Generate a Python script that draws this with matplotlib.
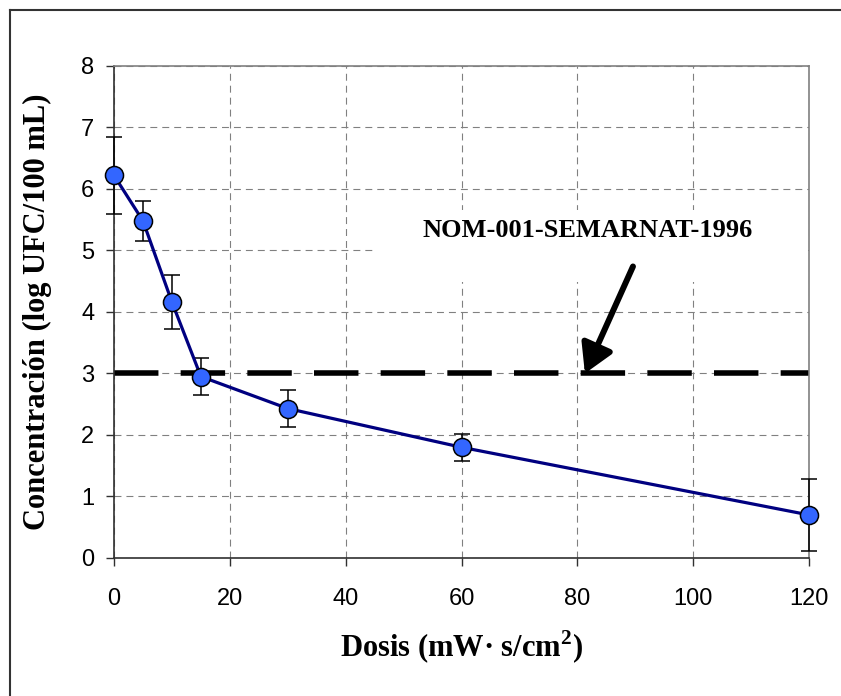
import matplotlib
matplotlib.use("Agg")
import matplotlib.pyplot as plt
from matplotlib.patches import Rectangle
from matplotlib.lines import Line2D

# dose (mW s/cm2) vs concentration (log UFC/100 mL)
dosis = [0, 5, 10, 15, 30, 60, 120]
conc = [6.22, 5.48, 4.16, 2.95, 2.43, 1.80, 0.70]
err = [0.63, 0.33, 0.44, 0.30, 0.30, 0.22, 0.58]

norma = 3.0
norma_label = "NOM-001-SEMARNAT-1996"
x_ticks = [0, 20, 40, 60, 80, 100, 120]
y_ticks = [0, 1, 2, 3, 4, 5, 6, 7, 8]

plt.rcParams["lines.scale_dashes"] = False
plt.rcParams["mathtext.fontset"] = "custom"
plt.rcParams["mathtext.rm"] = "Liberation Serif"
plt.rcParams["mathtext.bf"] = "Liberation Serif:bold"

fig = plt.figure(figsize=(8.41, 6.96), dpi=100)
ax = fig.add_axes([0.1356, 0.1983, 0.8264, 0.7069])

# outer frame (left + top visible)
fig.add_artist(Line2D([10 / 841, 10 / 841], [0, 1 - 10 / 696], transform=fig.transFigure, color="#333333", lw=1.5))
fig.add_artist(Line2D([10 / 841, 1], [1 - 10 / 696, 1 - 10 / 696], transform=fig.transFigure, color="#333333", lw=1.5))

ax.set_xlim(0, 120)
ax.set_ylim(0, 8)
ax.set_xticks(x_ticks)
ax.set_yticks(y_ticks)
ax.set_axisbelow(True)
ax.grid(True, color="#808080", lw=0.8, dashes=(5, 3.6))

# white text box hiding the grid behind the label
ax.add_patch(Rectangle((45.1, 4.49), 74.8, 1.17, facecolor="white", edgecolor="none", zorder=1))

ax.plot([0, 120], [norma, norma], color="black", lw=4, dashes=(32, 16), zorder=2, solid_capstyle="butt", dash_capstyle="butt")

ax.errorbar(dosis, conc, yerr=err, fmt="none", ecolor="black", elinewidth=1.1, capsize=5.8, capthick=1.1, zorder=3, clip_on=False)
ax.plot(dosis, conc, color="#000080", lw=2.3, marker="o", ms=13, mfc="#3366FF", mec="black", mew=1.1, zorder=4, clip_on=False)

ax.text(81.8, 5.33, norma_label, ha="center", va="center", fontsize=19, fontweight="bold", family="Liberation Serif", zorder=5)
ax.annotate("", xy=(81.3, 3.0), xytext=(89.6, 4.74),
            arrowprops=dict(arrowstyle="-|>,head_length=0.86,head_width=0.5", mutation_scale=20, lw=4.3, color="black", shrinkA=0, shrinkB=0),
            zorder=5)

for s in ["left", "bottom"]:
    ax.spines[s].set_color("#303030")
    ax.spines[s].set_linewidth(1.2)
for s in ["top", "right"]:
    ax.spines[s].set_color("#808080")
    ax.spines[s].set_linewidth(1.2)

ax.tick_params(axis="both", direction="out", length=5.8, width=1, color="#303030", labelsize=17)
ax.tick_params(axis="x", pad=15.5)
ax.tick_params(axis="y", pad=8.5)
for lab in ax.get_xticklabels() + ax.get_yticklabels():
    lab.set_family("Liberation Sans")

ax.set_xlabel("Dosis (mW\u00b7 s/cm$^{\\mathbf{2}}$)", fontsize=22, fontweight="bold", family="Liberation Serif")
ax.xaxis.set_label_coords(0.5, -(647 - 558) / 492)
ax.xaxis.label.set_va("center")
ax.set_ylabel("Concentración (log UFC/100 mL)", fontsize=22, fontweight="bold", family="Liberation Serif")
ax.yaxis.set_label_coords((37 - 114) / 695, 0.5)
ax.yaxis.label.set_va("center")

plt.savefig("out.png", dpi=100)
